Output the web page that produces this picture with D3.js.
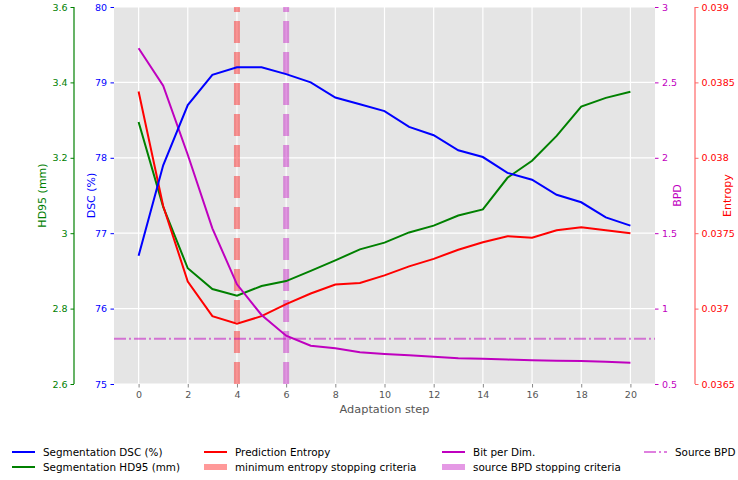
<!DOCTYPE html>
<html>
<head>
<meta charset="utf-8">
<script src="https://cdn.jsdelivr.net/npm/d3@7"></script>
<style>
  body { margin: 0; background: #fff; }
  svg { font-family: "DejaVu Sans", sans-serif; }
</style>
</head>
<body>
<svg id="chart"></svg>
<script>
const steps = d3.range(0, 21);
const dsc = [76.70, 77.90, 78.70, 79.10, 79.20, 79.20, 79.11, 79.00, 78.80, 78.71, 78.62,
  78.41, 78.30, 78.10, 78.01, 77.80, 77.71, 77.51, 77.41, 77.21, 77.10];
const hd95 = [3.295, 3.07, 2.907, 2.852, 2.834, 2.86, 2.873, 2.90, 2.928, 2.957, 2.975,
  3.002, 3.02, 3.047, 3.063, 3.147, 3.192, 3.258, 3.336, 3.359, 3.375];
const entropy = [0.03844, 0.03768, 0.03718, 0.03695, 0.0369, 0.03695, 0.03703, 0.0371, 0.03716,
  0.03717, 0.03722, 0.03728, 0.03733, 0.03739, 0.03744, 0.03748, 0.03747, 0.03752, 0.03754,
  0.03752, 0.0375];
const bpd = [2.726, 2.478, 2.02, 1.532, 1.161, 0.958, 0.82, 0.754, 0.737, 0.71, 0.699,
  0.69, 0.681, 0.67, 0.668, 0.662, 0.657, 0.655, 0.653, 0.647, 0.641];
const sourceBpd = 0.8;
const minEntropyStep = 4;
const sourceBpdStep = 6;

const xTicks = d3.range(0, 21, 2);
const dscTicks = [75, 76, 77, 78, 79, 80];
const hdTicks = [2.6, 2.8, 3.0, 3.2, 3.4, 3.6];
const bpdTicks = [0.5, 1, 1.5, 2, 2.5, 3];
const entTicks = [0.0365, 0.037, 0.0375, 0.038, 0.0385, 0.039];

const width = 738, height = 480;
const pLeft = 114, pRight = 655, pTop = 7, pBottom = 384;

const svg = d3.select("#chart").attr("width", width).attr("height", height);

const x = d3.scaleLinear().domain([-1, 21]).range([pLeft, pRight]);
const yDsc = d3.scaleLinear().domain([75, 80]).range([pBottom, pTop]);
const yHd = d3.scaleLinear().domain([2.6, 3.6]).range([pBottom, pTop]);
const yBpd = d3.scaleLinear().domain([0.5, 3]).range([pBottom, pTop]);
const yEnt = d3.scaleLinear().domain([0.0365, 0.039]).range([pBottom, pTop]);

const fmt = (d) => String(+d.toFixed(5));

// background + grid
svg.append("rect")
  .attr("x", pLeft).attr("y", pTop)
  .attr("width", pRight - pLeft).attr("height", pBottom - pTop)
  .attr("fill", "#e5e5e5");

svg.append("g").selectAll("line").data(xTicks).join("line")
  .attr("x1", (d) => x(d)).attr("x2", (d) => x(d))
  .attr("y1", pTop).attr("y2", pBottom)
  .attr("stroke", "#fff").attr("stroke-width", 1.2);

svg.append("g").selectAll("line").data(dscTicks).join("line")
  .attr("x1", pLeft).attr("x2", pRight)
  .attr("y1", (d) => yDsc(d)).attr("y2", (d) => yDsc(d))
  .attr("stroke", "#fff").attr("stroke-width", 1.2);

// stopping criteria
function vline(step, color) {
  svg.append("line")
    .attr("x1", x(step)).attr("x2", x(step))
    .attr("y1", pBottom).attr("y2", pTop)
    .attr("stroke", color).attr("stroke-opacity", 0.4)
    .attr("stroke-width", 6).attr("stroke-dasharray", "22,9");
}
vline(minEntropyStep, "#ff0000");
vline(sourceBpdStep, "#bf00bf");

svg.append("line")
  .attr("x1", pLeft).attr("x2", pRight)
  .attr("y1", yBpd(sourceBpd)).attr("y2", yBpd(sourceBpd))
  .attr("stroke", "#bf00bf").attr("stroke-opacity", 0.5)
  .attr("stroke-width", 2).attr("stroke-dasharray", "12,3,2,3");

// series
function series(values, y, color) {
  svg.append("path")
    .datum(values)
    .attr("fill", "none")
    .attr("stroke", color)
    .attr("stroke-width", 2)
    .attr("d", d3.line().x((d, i) => x(steps[i])).y((d) => y(d)));
}
series(hd95, yHd, "#008000");
series(entropy, yEnt, "#ff0000");
series(bpd, yBpd, "#bf00bf");
series(dsc, yDsc, "#0000ff");

// axes
function styleAxis(g, color, size) {
  g.select(".domain").remove();
  g.selectAll(".tick line").attr("stroke", color);
  g.selectAll(".tick text").attr("fill", color)
    .style("font-size", size + "px").style("font-family", "DejaVu Sans");
}

const xAxis = svg.append("g")
  .attr("transform", `translate(0,${pBottom})`)
  .call(d3.axisBottom(x).tickValues(xTicks).tickSize(3.5).tickPadding(3.5));
styleAxis(xAxis, "#555", 9.5);
xAxis.selectAll(".tick line").attr("stroke", "#888");

const dscAxis = svg.append("g")
  .attr("transform", `translate(${pLeft},0)`)
  .call(d3.axisLeft(yDsc).tickValues(dscTicks).tickFormat(fmt).tickSize(3.5).tickPadding(3.5));
styleAxis(dscAxis, "#0000ff", 9.5);

const hdAxis = svg.append("g")
  .attr("transform", `translate(74,0)`)
  .call(d3.axisLeft(yHd).tickValues(hdTicks).tickFormat(fmt).tickSize(3.5).tickPadding(3));
styleAxis(hdAxis, "#008000", 9.5);
hdAxis.append("line").attr("y1", pTop).attr("y2", pBottom)
  .attr("stroke", "#008000").attr("stroke-width", 1.2);

const bpdAxis = svg.append("g")
  .attr("transform", `translate(${pRight},0)`)
  .call(d3.axisRight(yBpd).tickValues(bpdTicks).tickFormat(fmt).tickSize(3.5).tickPadding(3.5));
styleAxis(bpdAxis, "#bf00bf", 9.5);

const entAxis = svg.append("g")
  .attr("transform", `translate(695,0)`)
  .call(d3.axisRight(yEnt).tickValues(entTicks).tickFormat(fmt).tickSize(3.5).tickPadding(3));
styleAxis(entAxis, "#ff0000", 9.5);
entAxis.selectAll(".tick line").attr("stroke", "#ff6666");
entAxis.append("line").attr("y1", pTop).attr("y2", pBottom)
  .attr("stroke", "#ff6666").attr("stroke-width", 1.2);

// axis labels
function yLabel(text, cx, color) {
  svg.append("text")
    .attr("transform", `translate(${cx},${(pTop + pBottom) / 2}) rotate(-90)`)
    .attr("text-anchor", "middle")
    .attr("dominant-baseline", "central")
    .attr("fill", color)
    .style("font-size", "11px")
    .text(text);
}
yLabel("HD95 (mm)", 42, "#008000");
yLabel("DSC (%)", 91, "#0000ff");
yLabel("BPD", 677, "#bf00bf");
yLabel("Entropy", 727, "#ff0000");

svg.append("text")
  .attr("x", (pLeft + pRight) / 2).attr("y", 413)
  .attr("text-anchor", "middle")
  .attr("fill", "#555")
  .style("font-size", "11.3px")
  .text("Adaptation step");

// legend
const legendItems = [
  { label: "Segmentation DSC (%)", color: "#0000ff", kind: "line", col: 0, row: 0 },
  { label: "Segmentation HD95 (mm)", color: "#008000", kind: "line", col: 0, row: 1 },
  { label: "Prediction Entropy", color: "#ff0000", kind: "line", col: 1, row: 0 },
  { label: "minimum entropy stopping criteria", color: "#ff0000", kind: "patch", col: 1, row: 1 },
  { label: "Bit per Dim.", color: "#bf00bf", kind: "line", col: 2, row: 0 },
  { label: "source BPD stopping criteria", color: "#bf00bf", kind: "patch", col: 2, row: 1 },
  { label: "Source BPD", color: "#bf00bf", kind: "dashdot", col: 3, row: 0 },
];
const colX = [12, 204, 442, 644];
const rowY = [452, 467];

const legend = svg.append("g");
legendItems.forEach((d) => {
  const lx = colX[d.col], ly = rowY[d.row];
  const h = legend.append("line")
    .attr("x1", lx).attr("x2", lx + 23)
    .attr("y1", ly).attr("y2", ly)
    .attr("stroke", d.color);
  if (d.kind === "line") h.attr("stroke-width", 2);
  if (d.kind === "patch") h.attr("stroke-width", 6).attr("stroke-opacity", 0.4);
  if (d.kind === "dashdot") h.attr("stroke-width", 2).attr("stroke-opacity", 0.5)
    .attr("stroke-dasharray", "12,3,2,3");
  legend.append("text")
    .attr("x", lx + 31).attr("y", ly)
    .attr("dominant-baseline", "central")
    .style("font-size", "10.4px")
    .attr("fill", "#000")
    .text(d.label);
});
</script>
</body>
</html>
